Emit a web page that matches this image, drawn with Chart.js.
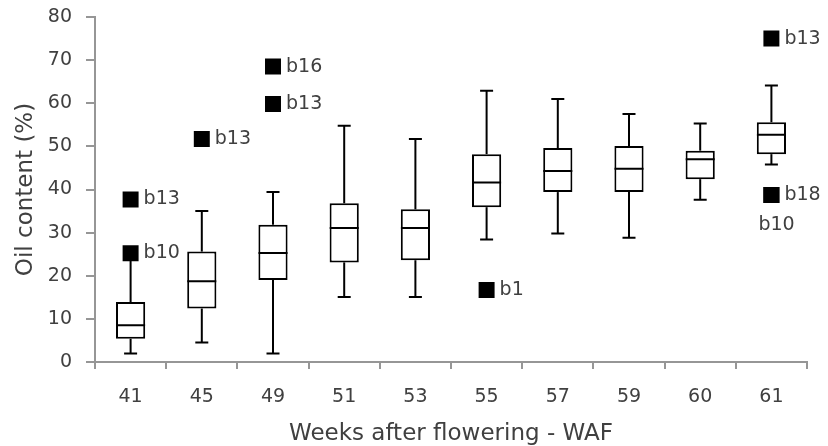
<!DOCTYPE html>
<html>
<head>
<meta charset="utf-8">
<script src="https://cdn.jsdelivr.net/npm/chart.js@4/dist/chart.umd.min.js"></script>
<style>
	html, body { margin: 0; padding: 0; background: #fff; }
	#box { width: 828px; height: 446px; }
</style>
</head>
<body>
<div id="box"><canvas id="cnvAceite" width="828" height="446"></canvas></div>
<script>
// semanas despues de floracion
var semanas = ["41", "45", "49", "51", "53", "55", "57", "59", "60", "61"];
var minimos = [2.0, 4.5, 2.0, 15.1, 15.1, 28.4, 29.8, 28.8, 37.6, 45.8];
var cuartil1 = [5.4, 12.4, 19.0, 23.1, 23.6, 35.9, 39.4, 39.4, 42.4, 48.2];
var medianas = [8.5, 18.7, 25.3, 31.1, 31.1, 41.6, 44.3, 44.8, 47.0, 52.7];
var cuartil3 = [13.9, 25.6, 31.8, 36.8, 35.4, 48.2, 49.6, 50.1, 49.0, 55.6];
var maximos = [24.0, 35.0, 39.4, 54.8, 51.7, 62.9, 61.0, 57.5, 55.3, 64.1];

// valores atipicos
var atipSemana = ["41", "41", "45", "49", "49", "55", "61", "61", "61"];
var atipValor = [25.2, 37.7, 51.7, 68.5, 59.8, 16.7, 75.0, 38.7, 38.7];
var atipNombre = ["b10", "b13", "b13", "b16", "b13", "b1", "b13", "b18", "b10"];

var ejeColor = "#969696";
var textoColor = "#404040";
var fuente = "'DejaVu Sans', sans-serif";

function rango(a, b){
	return a.map(function(v, i){ return [v, b[i]]; });
}

var etiquetasAtip = {
	id: "etiquetasAtip",
	afterDatasetsDraw: function(chart){
		var meta = chart.getDatasetMeta(0);
		var ctx = chart.ctx;
		var vistos = [];
		ctx.save();
		ctx.font = "19px " + fuente;
		ctx.fillStyle = textoColor;
		ctx.textBaseline = "middle";
		ctx.textAlign = "left";
		meta.data.forEach(function(p, i){
			var clave = atipSemana[i] + "|" + atipValor[i];
			if (vistos.indexOf(clave) >= 0) {
				ctx.fillText(atipNombre[i], p.x - 13, p.y + 30);
			} else {
				ctx.fillText(atipNombre[i], p.x + 13, p.y);
			}
			vistos.push(clave);
		});
		ctx.restore();
	}
};

var puntos = atipSemana.map(function(s, i){ return {x: s, y: atipValor[i]}; });

function marca(etiqueta, datos, radio, orden){
	return {
		type: "line",
		label: etiqueta,
		data: datos,
		showLine: false,
		pointStyle: "line",
		pointRadius: radio,
		pointBorderColor: "#000",
		pointBorderWidth: 2,
		order: orden
	};
}

new Chart(document.getElementById("cnvAceite").getContext("2d"), {
	type: "bar",
	data: {
		labels: semanas,
		datasets: [
			{
				type: "line",
				label: "atipicos",
				data: puntos,
				showLine: false,
				pointStyle: "rect",
				pointRadius: 11.3,
				pointBackgroundColor: "#000",
				pointBorderWidth: 0,
				order: 0
			},
			marca("max", maximos, 6.5, 1),
			marca("min", minimos, 6.5, 1),
			marca("mediana", medianas, 14.5, 1),
			{
				label: "caja",
				data: rango(cuartil1, cuartil3),
				backgroundColor: "#fff",
				borderColor: "#000",
				borderWidth: 2,
				borderSkipped: false,
				grouped: false,
				barPercentage: 0.41,
				categoryPercentage: 1,
				order: 2
			},
			{
				label: "bigote inferior",
				data: rango(minimos, cuartil1),
				backgroundColor: "#000",
				borderWidth: 0,
				grouped: false,
				maxBarThickness: 2,
				order: 3
			},
			{
				label: "bigote superior",
				data: rango(cuartil3, maximos),
				backgroundColor: "#000",
				borderWidth: 0,
				grouped: false,
				maxBarThickness: 2,
				order: 3
			}
		]
	},
	options: {
		responsive: false,
		animation: false,
		layout: { autoPadding: false, padding: { top: 17, right: 21, left: 0, bottom: 0 } },
		plugins: {
			legend: { display: false },
			tooltip: { enabled: false }
		},
		scales: {
			x: {
				offset: true,
				grid: { display: true, drawOnChartArea: false, offset: true, color: ejeColor, lineWidth: 2, tickLength: 7 },
				border: { color: ejeColor, width: 2 },
				ticks: { color: textoColor, font: { family: fuente, size: 19 }, padding: 17, maxRotation: 0 },
				title: {
					display: true,
					text: "Weeks after flowering - WAF",
					color: textoColor,
					font: { family: fuente, size: 23 },
					padding: { top: 0, bottom: -1.9 }
				},
				afterFit: function(s){ s.height = 84; }
			},
			y: {
				min: 0,
				max: 80,
				grid: { display: true, drawOnChartArea: false, color: ejeColor, lineWidth: 2, tickLength: 9 },
				border: { color: ejeColor, width: 2 },
				ticks: { stepSize: 10, color: textoColor, font: { family: fuente, size: 19 }, padding: 14 },
				title: {
					display: true,
					text: "Oil content (%)",
					color: textoColor,
					font: { family: fuente, size: 23 },
					padding: { top: 12.2, bottom: 0 }
				},
				afterFit: function(s){
					s.width = 95;
					s.paddingTop = 11;
					s.paddingBottom = 11;
				}
			}
		}
	},
	plugins: [etiquetasAtip]
});
</script>
</body>
</html>
